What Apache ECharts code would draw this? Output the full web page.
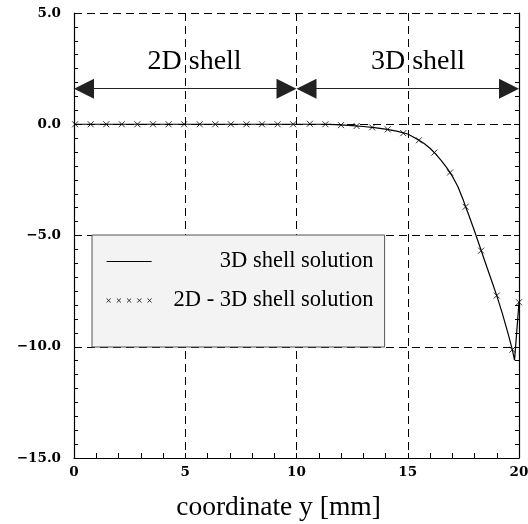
<!DOCTYPE html>
<html>
<head>
<meta charset="utf-8">
<script src="https://cdn.jsdelivr.net/npm/echarts@6/dist/echarts.min.js"></script>
<style>html,body{margin:0;padding:0;background:#fff;}#c{width:528px;height:524px;}</style>
</head>
<body>
<div id="c"></div>
<script>
// ---- data ----
const lineName = '3D shell solution';
const lineX = [0, 2, 4, 6, 8, 10, 11, 11.5, 12, 12.5, 13, 13.5, 14, 14.5, 15, 15.25, 15.5, 15.75, 16, 16.25, 16.5, 16.75, 17, 17.25, 17.5, 17.6, 17.75, 18, 18.25, 18.5, 18.75, 19, 19.25, 19.5, 19.7, 19.8, 20];
const lineY = [0, 0, 0, 0, 0, 0, 0, -0.01, -0.03, -0.06, -0.1, -0.15, -0.22, -0.31, -0.44, -0.57, -0.72, -0.88, -1.08, -1.33, -1.62, -1.95, -2.33, -2.8, -3.42, -3.71, -4.1, -4.8, -5.53, -6.26, -6.98, -7.7, -8.5, -9.38, -10.13, -10.6, -8.0];

const crossName = '2D - 3D shell solution';
const crossX = [0.05, 0.75, 1.45, 2.15, 2.85, 3.55, 4.25, 4.95, 5.65, 6.35, 7.05, 7.75, 8.45, 9.15, 9.85, 10.6, 11.3, 12.0, 12.7, 13.4, 14.1, 14.8, 15.5, 16.2, 16.9, 17.6, 18.3, 19.0, 19.7, 20.0];
const crossY = [0, 0, 0, 0, 0, 0, 0, 0, 0, 0, 0, 0, 0, 0, 0, 0.02, 0, -0.04, -0.08, -0.14, -0.23, -0.4, -0.72, -1.27, -2.17, -3.71, -5.68, -7.7, -10.13, -8.0];

const regionLabels = ['2D shell', '3D shell'];
const regionStart = [0, 10];
const regionEnd = [10, 20];
const regionArrowY = 1.6;
const regionLabelX = [5.42, 15.46];
const regionLabelY = 2.82;

const xTicks = [0, 5, 10, 15, 20];
const yTicks = [-15, -10, -5, 0, 5];

// ---- layout ----
const gridLeft = 74, gridTop = 13, gridW = 445, gridH = 445;
const xMin = xTicks[0], xMax = xTicks[xTicks.length - 1];
const arrowHalf = 10 * (xMax - xMin) / gridW; // half arrow head in data units

const crossPath = 'path://M0,0L10,10M10,0L0,10';
const legendCross = 'path://M0,0L4,4M4,0L0,4M10,0L14,4M14,0L10,4M20,0L24,4M24,0L20,4M30,0L34,4M34,0L30,4M40,0L44,4M44,0L40,4';

const fmtY = v => (v < 0 ? '\u2212' : '') + Math.abs(v).toFixed(1);

const markLines = regionLabels.map((n, i) => [
  { coord: [regionStart[i] + arrowHalf, regionArrowY] },
  { coord: [regionEnd[i] - arrowHalf, regionArrowY] }
]);
const markPoints = regionLabels.map((n, i) => ({ name: n, coord: [regionLabelX[i], regionLabelY] }));

const chart = echarts.init(document.getElementById('c'), null, { renderer: 'canvas' });
const dash = { type: [8, 5], color: '#000', width: 1 };
const tickLab = { fontFamily: 'DejaVu Serif', fontWeight: 'bold', fontSize: 13.5, color: '#000' };

chart.setOption({
  animation: false,
  backgroundColor: '#fff',
  grid: { left: gridLeft, top: gridTop, width: gridW, height: gridH, containLabel: false, outerBoundsMode: 'none' },
  xAxis: {
    type: 'value', min: xMin, max: xMax, interval: 5,
    axisLine: { show: true, onZero: false, lineStyle: { color: '#000', width: 1.2 } },
    axisTick: { show: true, inside: true, length: 5, lineStyle: { color: '#000' } },
    minorTick: { show: true, splitNumber: 5, length: 5, lineStyle: { color: '#000' } },
    splitLine: { show: true, lineStyle: dash },
    axisLabel: Object.assign({ margin: 7 }, tickLab),
    name: 'coordinate y [mm]', nameLocation: 'middle', nameGap: 36,
    nameTextStyle: { fontFamily: 'Liberation Serif', fontSize: 27.5, color: '#000', padding: [0, 36, 0, 0] }
  },
  yAxis: [{
    type: 'value', min: yTicks[0], max: yTicks[yTicks.length - 1], interval: 5,
    axisLine: { show: true, onZero: false, lineStyle: { color: '#000', width: 1.2 } },
    axisTick: { show: true, inside: true, length: 5, lineStyle: { color: '#000' } },
    minorTick: { show: true, splitNumber: 8, length: 4, lineStyle: { color: '#000' } },
    splitLine: { show: true, lineStyle: dash },
    axisLabel: Object.assign({ margin: 13, formatter: fmtY }, tickLab)
  }, {
    type: 'value', position: 'right', min: yTicks[0], max: yTicks[yTicks.length - 1], interval: 5,
    axisLine: { show: true, onZero: false, lineStyle: { color: '#000', width: 1.2 } },
    axisTick: { show: true, inside: true, length: 5, lineStyle: { color: '#000' } },
    minorTick: { show: true, splitNumber: 8, length: 4, lineStyle: { color: '#000' } },
    splitLine: { show: false },
    axisLabel: { show: false }
  }],
  legend: {
    orient: 'vertical', left: 92, top: 235,
    padding: [15, 11, 35, 14],
    backgroundColor: '#f3f3f3', borderColor: '#555', borderWidth: 1,
    itemWidth: 45, itemHeight: 5, itemGap: 16,
    textStyle: { fontFamily: 'Liberation Serif', fontSize: 22.5, color: '#000',
      rich: { a: { width: 217, align: 'right', fontFamily: 'Liberation Serif', fontSize: 22.5 } } },
    formatter: n => '{a|' + n + '}',
    data: [
      { name: lineName, itemStyle: { color: 'transparent', borderWidth: 0 }, lineStyle: { color: '#000', width: 1.2 } },
      { name: crossName, icon: legendCross, itemStyle: { color: 'transparent', borderColor: '#000', borderWidth: 1 } }
    ]
  },
  series: [
    {
      name: lineName, type: 'line', symbol: 'none', smooth: false,
      lineStyle: { color: '#000', width: 1.2 }, itemStyle: { color: '#000' },
      data: lineX.map((x, i) => [x, lineY[i]]),
      z: 3,
      markLine: {
        silent: true, symbol: ['triangle', 'triangle'], symbolSize: [20, 20],
        lineStyle: { color: '#222', width: 1.2, type: 'solid' },
        label: { show: false },
        data: markLines
      },
      markPoint: {
        silent: true, symbol: 'circle', symbolSize: 0,
        label: { show: true, position: 'inside', formatter: '{b}', fontFamily: 'Liberation Serif', fontSize: 28, color: '#000' },
        data: markPoints
      }
    },
    {
      name: crossName, type: 'scatter', symbol: crossPath, symbolSize: 6,
      itemStyle: { color: 'transparent', borderColor: '#000', borderWidth: 1 },
      data: crossX.map((x, i) => [x, crossY[i]]),
      z: 4
    }
  ]
});
</script>
</body>
</html>
